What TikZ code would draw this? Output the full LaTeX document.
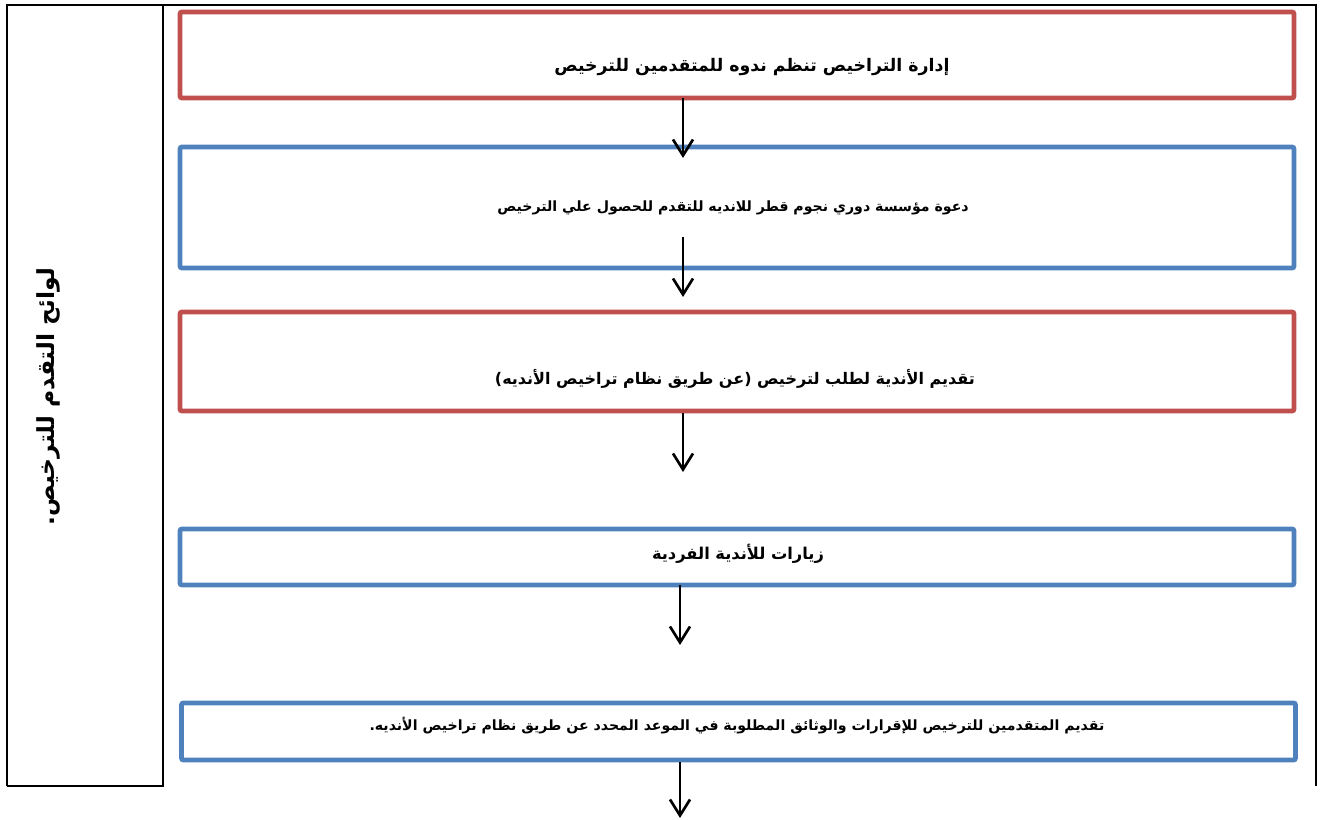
\documentclass[tikz,border=0pt]{standalone}
\usepackage{fontspec}
\TeXXeTstate=1
\newfontfamily\arabicfont[Script=Arabic]{DejaVu Sans}
\usetikzlibrary{arrows.meta}
\definecolor{boxred}{HTML}{C0504D}
\definecolor{boxblue}{HTML}{4F81BD}
\begin{document}
\begin{tikzpicture}[x=0.75pt,y=-0.75pt,
  frame/.style={line width=2.2pt,black},
  flowbox/.style={draw,line width=3.6pt,rounded corners=1.5pt,minimum width=835.5pt,inner sep=0pt,outer sep=0pt},
  redbox/.style={flowbox,draw=boxred},
  bluebox/.style={flowbox,draw=boxblue},
  txt/.style={inner sep=0pt,font=\arabicfont\bfseries},
  arr/.style={line width=2pt,-{Straight Barb[length=12pt,width=15pt]}}]
\useasboundingbox (0,0) rectangle (1329,820);
% frame
\coordinate (f1) at (7,5);
\coordinate (f2) at (1316,5);
\coordinate (f3) at (1316,786);
\coordinate (f4) at (163,5);
\coordinate (f5) at (163,786);
\coordinate (f6) at (7,786);
\draw[frame] (f6) -- (f1) -- (f2) -- (f3);
\draw[frame] (f4) -- (f5) -- (f6);
\node[txt,rotate=90,font=\arabicfont\bfseries\fontsize{17.6}{20}\selectfont] (side) at (48,397) {\beginR لوائح التقدم للترخيص.\endR};
% boxes
\node[redbox,minimum height=64.5pt] (b1) at (737,55) {};
\node[bluebox,minimum height=90.75pt] (b2) at (737,207.5) {};
\node[redbox,minimum height=74.25pt] (b3) at (737,361.5) {};
\node[bluebox,minimum height=42pt] (b4) at (737,557) {};
\node[bluebox,minimum height=42.75pt] (b5) at (738.5,731.5) {};
% texts
\node[txt,font=\arabicfont\bfseries\fontsize{13}{15}\selectfont] (t1) at (752,67) {\beginR إدارة التراخيص تنظم ندوه للمتقدمين للترخيص\endR};
\node[txt,font=\arabicfont\bfseries\fontsize{10.6}{13}\selectfont] (t2) at (733,208) {\beginR دعوة مؤسسة دوري نجوم قطر للانديه للتقدم للحصول علي الترخيص\endR};
\node[txt,font=\arabicfont\bfseries\fontsize{12}{14}\selectfont] (t3) at (735,379) {\beginR تقديم الأندية لطلب لترخيص (عن طريق نظام تراخيص الأنديه)\endR};
\node[txt,font=\arabicfont\bfseries\fontsize{12.2}{14}\selectfont] (t4) at (738,554) {\beginR زيارات للأندية الفردية\endR};
\node[txt,font=\arabicfont\bfseries\fontsize{10.6}{12}\selectfont] (t5) at (737,726) {\beginR تقديم المتقدمين للترخيص للإقرارات والوثائق المطلوبة في الموعد المحدد عن طريق نظام تراخيص الأنديه.\endR};
% arrows
\coordinate (a1s) at (683,98);  \coordinate (a1e) at (683,158);
\coordinate (a2s) at (683,237); \coordinate (a2e) at (683,297);
\coordinate (a3s) at (683,413); \coordinate (a3e) at (683,472);
\coordinate (a4s) at (680,585); \coordinate (a4e) at (680,645);
\coordinate (a5s) at (680,762); \coordinate (a5e) at (680,818);
\draw[arr] (a1s) -- (a1e);
\draw[arr] (a2s) -- (a2e);
\draw[arr] (a3s) -- (a3e);
\draw[arr] (a4s) -- (a4e);
\draw[arr] (a5s) -- (a5e);
\end{tikzpicture}
\end{document}
